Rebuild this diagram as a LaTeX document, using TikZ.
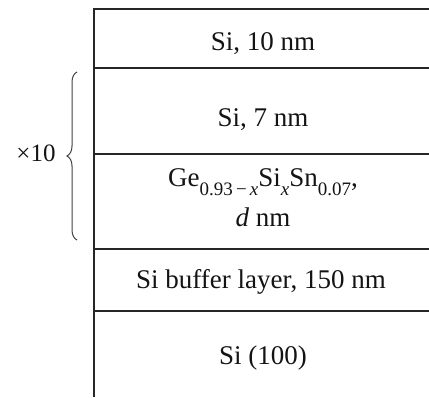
\documentclass[tikz,border=0pt]{standalone}
\usepackage{fontspec}
\setmainfont{Liberation Serif}
\usetikzlibrary{decorations.pathreplacing}
\newcommand{\lowsub}[1]{\raisebox{-0.3em}{\fontsize{19}{20}\selectfont #1}}
\begin{document}
\begin{tikzpicture}[x=1pt,y=1pt,
  layerline/.style={draw=black!85, line width=1.9pt},
  layertext/.style={font=\fontsize{27}{31}\selectfont, text=black!92, inner sep=0pt, anchor=base},
  bracestyle/.style={draw=black!75, line width=1pt, decorate, decoration={brace, amplitude=10pt}}]
\useasboundingbox (0,0) rectangle (429,397);
% layer boundaries
\coordinate (tl) at (94,388);
\coordinate (tr) at (429,388);
\coordinate (bl) at (94,0);
\coordinate (a1) at (94,329); \coordinate (b1) at (429,329);
\coordinate (a2) at (94,243); \coordinate (b2) at (429,243);
\coordinate (a3) at (94,148); \coordinate (b3) at (429,148);
\coordinate (a4) at (94,86);  \coordinate (b4) at (429,86);
\draw[layerline] (bl) -- (tl) -- (tr);
\draw[layerline] (a1) -- (b1);
\draw[layerline] (a2) -- (b2);
\draw[layerline] (a3) -- (b3);
\draw[layerline] (a4) -- (b4);
% layer labels
\node[layertext] (cap) at (263,346) {Si, 10 nm};
\node[layertext] (spacer) at (263,270) {Si, 7 nm};
\node[layertext] (alloy) at (263,210) {Ge\lowsub{0.93\,−\,\textit{x}}Si\lowsub{\textit{x}}Sn\lowsub{0.07},};
\node[layertext] (thick) at (263,170) {\textit{d} nm};
\node[layertext] (buffer) at (261,109) {Si buffer layer, 150 nm};
\node[layertext] (substrate) at (263,33) {Si (100)};
% period bracket
\coordinate (brlo) at (77,157);
\coordinate (brhi) at (77,325);
\draw[bracestyle] (brlo) -- (brhi);
\node[layertext, font=\fontsize{25}{28}\selectfont] (rep) at (36,235) {×10};
\end{tikzpicture}
\end{document}
